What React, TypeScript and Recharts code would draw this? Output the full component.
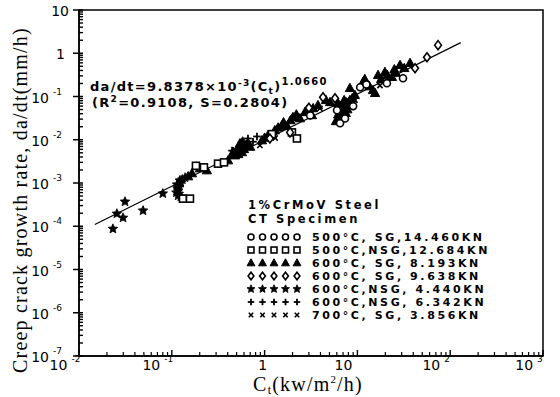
import React from 'react';
import { ScatterChart, Scatter, XAxis, YAxis, ReferenceArea } from 'recharts';

// ---- data (Ct in kW/m^2/h, da/dt in mm/h) ----
const circles500SG = [
  { ct: 6.03, rate: 0.048 }, { ct: 7.35, rate: 0.031 }, { ct: 6.5, rate: 0.024 },
  { ct: 31, rate: 0.264 }, { ct: 20.8, rate: 0.202 }, { ct: 10.7, rate: 0.163 },
  { ct: 3.1, rate: 0.0366 }, { ct: 12.5, rate: 0.19 }, { ct: 9.0, rate: 0.06 },
];
const squares500NSG = [
  { ct: 0.132, rate: 4.35e-4 }, { ct: 0.157, rate: 4.35e-4 }, { ct: 0.182, rate: 2.5e-3 },
  { ct: 0.222, rate: 2.3e-3 }, { ct: 0.315, rate: 2.8e-3 }, { ct: 0.365, rate: 3.0e-3 },
  { ct: 1.97, rate: 1.48e-2 }, { ct: 2.23, rate: 1.07e-2 }, { ct: 1.2, rate: 1.35e-2 },
];
const triangles600SG = [
  { ct: 0.15, rate: 1.41e-3 }, { ct: 0.165, rate: 1.66e-3 }, { ct: 0.201, rate: 2.16e-3 },
  { ct: 0.239, rate: 1.94e-3 }, { ct: 0.404, rate: 3.3e-3 }, { ct: 0.48, rate: 4.3e-3 },
  { ct: 0.517, rate: 6.3e-3 }, { ct: 0.57, rate: 5.1e-3 }, { ct: 0.63, rate: 7.4e-3 },
  { ct: 0.543, rate: 8.2e-3 }, { ct: 0.46, rate: 5.2e-3 }, { ct: 0.6, rate: 6.0e-3 },
  { ct: 0.5, rate: 5.8e-3 }, { ct: 0.55, rate: 7.0e-3 }, { ct: 0.66, rate: 8.5e-3 },
  { ct: 0.7, rate: 6.8e-3 }, { ct: 0.52, rate: 4.6e-3 }, { ct: 0.58, rate: 9.0e-3 },
  { ct: 0.45, rate: 4.5e-3 }, { ct: 0.937, rate: 9.6e-3 }, { ct: 1.09, rate: 1.26e-2 },
  { ct: 1.29, rate: 1.64e-2 }, { ct: 1.4, rate: 0.019 }, { ct: 1.6, rate: 0.025 },
  { ct: 1.9, rate: 0.028 }, { ct: 2.2, rate: 0.038 }, { ct: 1.0, rate: 0.011 },
  { ct: 1.54, rate: 2.15e-2 }, { ct: 2.02, rate: 3.3e-2 }, { ct: 2.86, rate: 4.8e-2 },
  { ct: 3.33, rate: 5.3e-2 }, { ct: 6.18, rate: 0.0695 }, { ct: 6.8, rate: 0.053 },
  { ct: 7.5, rate: 0.041 }, { ct: 6.5, rate: 0.031 }, { ct: 5.87, rate: 0.0266 },
  { ct: 7.9, rate: 0.066 }, { ct: 8.3, rate: 0.0817 }, { ct: 7.2, rate: 0.0817 },
  { ct: 6.2, rate: 0.038 }, { ct: 7.0, rate: 0.045 }, { ct: 6.6, rate: 0.06 },
  { ct: 7.8, rate: 0.05 }, { ct: 6.9, rate: 0.036 }, { ct: 6.3, rate: 0.028 },
  { ct: 7.6, rate: 0.072 }, { ct: 8.8, rate: 0.09 }, { ct: 8.3, rate: 0.155 },
  { ct: 11.5, rate: 0.213 }, { ct: 14.7, rate: 0.139 }, { ct: 16.7, rate: 0.31 },
  { ct: 19.8, rate: 0.364 }, { ct: 23.6, rate: 0.279 }, { ct: 28.8, rate: 0.53 },
  { ct: 36.9, rate: 0.59 }, { ct: 15.5, rate: 0.119 }, { ct: 9.4, rate: 0.107 },
  { ct: 12, rate: 0.25 }, { ct: 13.5, rate: 0.17 }, { ct: 18, rate: 0.25 },
  { ct: 21, rate: 0.31 }, { ct: 25, rate: 0.42 }, { ct: 26, rate: 0.35 },
  { ct: 32, rate: 0.45 }, { ct: 2.4, rate: 0.031 }, { ct: 2.72, rate: 0.043 },
  { ct: 3.76, rate: 0.0625 }, { ct: 4.58, rate: 0.0817 }, { ct: 5.07, rate: 0.0733 },
  { ct: 3.24, rate: 0.0366 }, { ct: 1.75, rate: 0.0204 },
];
const diamonds600SG = [
  { ct: 1.14, rate: 1.07e-2 }, { ct: 1.88, rate: 1.48e-2 }, { ct: 4.26, rate: 0.0957 },
  { ct: 5.74, rate: 0.0908 }, { ct: 56.2, rate: 0.81 }, { ct: 74, rate: 1.54 },
  { ct: 41.8, rate: 0.45 }, { ct: 3.0, rate: 0.055 },
];
const stars600NSG = [
  { ct: 0.0232, rate: 8.7e-5 }, { ct: 0.0256, rate: 1.95e-4 }, { ct: 0.0298, rate: 1.57e-4 },
  { ct: 0.0313, rate: 3.7e-4 }, { ct: 0.049, rate: 2.3e-4 }, { ct: 0.08, rate: 5.7e-4 },
  { ct: 0.114, rate: 9.2e-4 }, { ct: 0.117, rate: 6.7e-4 }, { ct: 0.117, rate: 5.1e-4 },
  { ct: 0.122, rate: 1.14e-3 }, { ct: 0.139, rate: 1.33e-3 }, { ct: 0.12, rate: 8e-4 },
  { ct: 0.112, rate: 6e-4 }, { ct: 0.115, rate: 7.5e-4 }, { ct: 0.125, rate: 1.0e-3 },
  { ct: 0.13, rate: 1.2e-3 }, { ct: 0.119, rate: 5.6e-4 }, { ct: 0.125, rate: 4.8e-4 },
];
const plus600NSG = [
  { ct: 0.662, rate: 1.07e-2 }, { ct: 0.828, rate: 1.19e-2 }, { ct: 0.446, rate: 5.6e-3 },
  { ct: 0.75, rate: 9.0e-3 },
];
const cross700SG = [
  { ct: 0.89, rate: 7.4e-3 }, { ct: 1.3, rate: 1.1e-2 }, { ct: 3.95, rate: 0.053 },
  { ct: 9.4, rate: 0.0817 }, { ct: 17.5, rate: 0.18 },
];
const fitLine = [
  { ct: 0.0148, rate: 1.1e-4 },
  { ct: 130, rate: 1.76 },
];

const xDecades = [0.01, 0.1, 1, 10, 100, 1000];
const yDecades = [1e-7, 1e-6, 1e-5, 1e-4, 1e-3, 1e-2, 0.1, 1, 10];
const minorMultipliers = [2, 3, 4, 5, 6, 7, 8, 9];
const xTickLabels = [['10', '-2'], ['10', '-1'], ['1', ''], ['10', ''], ['10', '2'], ['10', '3']];
const yTickLabels = [['10', '-7'], ['10', '-6'], ['10', '-5'], ['10', '-4'], ['10', '-3'], ['10', '-2'], ['10', '-1'], ['1', ''], ['10', '']];

const legendRows = [
  { kind: 'circle', label: '500°C, SG,14.460KN' },
  { kind: 'square', label: '500°C,NSG,12.684KN' },
  { kind: 'triangle', label: '600°C, SG, 8.193KN' },
  { kind: 'diamond', label: '600°C, SG, 9.638KN' },
  { kind: 'star', label: '600°C,NSG, 4.440KN' },
  { kind: 'plus', label: '600°C,NSG, 6.342KN' },
  { kind: 'cross', label: '700°C, SG, 3.856KN' },
];

const withMinors = (decades: number[]) => {
  const out: number[] = [];
  decades.forEach((d, i) => {
    out.push(d);
    if (i < decades.length - 1) minorMultipliers.forEach((m) => out.push(d * m));
  });
  return out;
};
const xTicks = withMinors(xDecades);
const yTicks = withMinors(yDecades);

const isMajor = (v: number) => {
  const l = Math.log10(v);
  return Math.abs(l - Math.round(l)) < 1e-6;
};

const FONT = '"DejaVu Sans", sans-serif';
const SERIF = '"Liberation Serif", "DejaVu Serif", serif';

function Marker({ kind, cx, cy, s = 1 }: { kind: string; cx: number; cy: number; s?: number }) {
  const sw = 1.6;
  switch (kind) {
    case 'circle':
      return <circle cx={cx} cy={cy} r={3.5 * s} fill="#fff" stroke="#000" strokeWidth={sw} />;
    case 'square':
      return <rect x={cx - 3.5 * s} y={cy - 3.5 * s} width={7 * s} height={7 * s} fill="#fff" stroke="#000" strokeWidth={sw} />;
    case 'triangle':
      return <polygon points={`${cx},${cy - 5 * s} ${cx + 4.6 * s},${cy + 3.3 * s} ${cx - 4.6 * s},${cy + 3.3 * s}`} fill="#000" stroke="#000" strokeWidth={1} />;
    case 'diamond':
      return <polygon points={`${cx},${cy - 4.5 * s} ${cx + 3.4 * s},${cy} ${cx},${cy + 4.5 * s} ${cx - 3.4 * s},${cy}`} fill="#fff" stroke="#000" strokeWidth={sw} />;
    case 'star': {
      const pts: string[] = [];
      for (let i = 0; i < 10; i++) {
        const r = (i % 2 === 0 ? 5 : 2.3) * s;
        const a = -Math.PI / 2 + (i * Math.PI) / 5;
        pts.push(`${cx + r * Math.cos(a)},${cy + r * Math.sin(a)}`);
      }
      return <polygon points={pts.join(' ')} fill="#000" stroke="#000" strokeWidth={0.8} />;
    }
    case 'plus':
      return (
        <g stroke="#000" strokeWidth={1.8}>
          <line x1={cx - 3.8 * s} y1={cy} x2={cx + 3.8 * s} y2={cy} />
          <line x1={cx} y1={cy - 3.8 * s} x2={cx} y2={cy + 3.8 * s} />
        </g>
      );
    case 'cross':
      return (
        <g stroke="#000" strokeWidth={1.6}>
          <line x1={cx - 2.6 * s} y1={cy - 2.6 * s} x2={cx + 2.6 * s} y2={cy + 2.6 * s} />
          <line x1={cx - 2.6 * s} y1={cy + 2.6 * s} x2={cx + 2.6 * s} y2={cy - 2.6 * s} />
        </g>
      );
    default:
      return <g />;
  }
}

const shapeOf = (kind: string) => (p: any) =>
  p && typeof p.cx === 'number' ? <Marker kind={kind} cx={p.cx} cy={p.cy} /> : <g />;

function XTick(props: any) {
  const { x, y, payload } = props;
  const v = payload.value;
  if (!isMajor(v)) {
    return <line x1={x} y1={y} x2={x} y2={y - 4} stroke="#000" strokeWidth={1.2} />;
  }
  const idx = xDecades.findIndex((d) => Math.abs(Math.log10(d) - Math.log10(v)) < 1e-6);
  const [base, exp] = xTickLabels[idx] || ['', ''];
  return (
    <g>
      <line x1={x} y1={y} x2={x} y2={y - 6} stroke="#000" strokeWidth={1.4} />
      {base === '1' ? (
        <text x={x - 2} y={y + 14} textAnchor="middle" fontFamily={FONT} fontSize={14} fill="#000">1</text>
      ) : (
        <text x={x - 14} y={y + 14} textAnchor="middle" fontFamily={FONT} fontSize={14} fill="#000">
          {base}
          {exp ? <tspan dx={4} dy={-8} fontSize={9}>{exp}</tspan> : null}
        </text>
      )}
    </g>
  );
}

function YTick(props: any) {
  const { x, y, payload } = props;
  const v = payload.value;
  if (!isMajor(v)) {
    return <line x1={x} y1={y} x2={x + 4} y2={y} stroke="#000" strokeWidth={1.4} />;
  }
  const idx = yDecades.findIndex((d) => Math.abs(Math.log10(d) - Math.log10(v)) < 1e-6);
  const [base, exp] = yTickLabels[idx] || ['', ''];
  return (
    <g>
      <line x1={x - 6} y1={y} x2={x + 4} y2={y} stroke="#000" strokeWidth={1.5} />
      {exp ? (
        <text x={x - 17} y={y + 6} textAnchor="end" fontFamily={FONT} fontSize={14} fill="#000">
          {base}
          <tspan dx={4} dy={-8} fontSize={9}>{exp}</tspan>
        </text>
      ) : (
        <text x={base === '1' ? x - 14 : x - 10} y={y + 6} textAnchor="end" fontFamily={FONT} fontSize={14} fill="#000">
          {base}
        </text>
      )}
    </g>
  );
}

function LegendMarkers({ kind }: { kind: string }) {
  return (
    <svg width={58} height={10} style={{ display: 'block' }}>
      {[0, 1, 2, 3, 4].map((i) => (
        <Marker key={i} kind={kind} cx={5 + i * 11.5} cy={5} s={0.85} />
      ))}
    </svg>
  );
}

const supStyle = (top: number, size: number): React.CSSProperties => ({
  position: 'relative',
  top,
  fontSize: size,
  lineHeight: 0,
  verticalAlign: 'baseline',
});

export default function App() {
  const txt: React.CSSProperties = {
    position: 'absolute',
    fontFamily: FONT,
    fontSize: 11,
    fontWeight: 'bold',
    letterSpacing: 2.6,
    whiteSpace: 'nowrap',
    color: '#000',
    lineHeight: '11px',
  };
  const eq: React.CSSProperties = { ...txt, fontSize: 13, letterSpacing: 1.3, lineHeight: 1 };
  return (
    <div style={{ position: 'absolute', left: 0, top: 0, width: 560, height: 397, background: '#fff' }}>
      <ScatterChart width={560} height={397} margin={{ top: 10, right: 17, bottom: 0, left: 0 }}>
        <XAxis
          dataKey="ct"
          type="number"
          scale="log"
          domain={[0.01, 1000]}
          allowDataOverflow
          ticks={xTicks}
          interval={0}
          tickLine={false}
          tickSize={0}
          tickMargin={0}
          height={41}
          axisLine={{ stroke: '#000', strokeWidth: 1.5 }}
          tick={<XTick />}
        />
        <YAxis
          dataKey="rate"
          type="number"
          scale="log"
          domain={[1e-7, 10]}
          allowDataOverflow
          ticks={yTicks}
          interval={0}
          tickLine={false}
          tickSize={0}
          tickMargin={0}
          width={79}
          axisLine={{ stroke: '#000', strokeWidth: 1.5 }}
          tick={<YTick />}
        />
        <ReferenceArea x1={0.01} x2={1000} y1={1e-7} y2={10} fill="none" stroke="#000" strokeWidth={1.5} ifOverflow="visible" />
        <Scatter data={fitLine} line={{ stroke: '#000', strokeWidth: 1.2 }} shape={() => <g />} isAnimationActive={false} />
        <Scatter data={triangles600SG} shape={shapeOf('triangle')} isAnimationActive={false} />
        <Scatter data={stars600NSG} shape={shapeOf('star')} isAnimationActive={false} />
        <Scatter data={plus600NSG} shape={shapeOf('plus')} isAnimationActive={false} />
        <Scatter data={cross700SG} shape={shapeOf('cross')} isAnimationActive={false} />
        <Scatter data={squares500NSG} shape={shapeOf('square')} isAnimationActive={false} />
        <Scatter data={diamonds600SG} shape={shapeOf('diamond')} isAnimationActive={false} />
        <Scatter data={circles500SG} shape={shapeOf('circle')} isAnimationActive={false} />
      </ScatterChart>

      {/* equation */}
      <div style={{ ...eq, left: 90, top: 80, height: 14 }}>
        da/dt=9.8378×10<span style={supStyle(-5, 9)}>-3</span>(C<span style={supStyle(3, 9)}>t</span>)<span style={supStyle(-6, 10)}>1.0660</span>
      </div>
      <div style={{ ...eq, left: 92, top: 96 }}>
        (R<span style={supStyle(-5, 9)}>2</span>=0.9108, S=0.2804)
      </div>

      {/* legend */}
      <div style={{ ...txt, left: 248, top: 200, fontSize: 11.5 }}>1%CrMoV Steel</div>
      <div style={{ ...txt, left: 248, top: 214, fontSize: 11.5 }}>CT Specimen</div>
      {legendRows.map((r, i) => (
        <div key={r.kind} style={{ position: 'absolute', left: 246, top: 231 + i * 13, height: 12, display: 'flex', alignItems: 'center' }}>
          <LegendMarkers kind={r.kind} />
          <span style={{ ...txt, position: 'static', marginLeft: 8 }}>{r.label}</span>
        </div>
      ))}

      {/* axis titles */}
      <div
        style={{
          position: 'absolute',
          left: 20,
          top: 200,
          transform: 'translate(-50%, -50%) rotate(-90deg)',
          fontFamily: SERIF,
          fontSize: 20,
          letterSpacing: 1.2,
          whiteSpace: 'nowrap',
          color: '#000',
          lineHeight: 1,
        }}
      >
        Creep crack growth rate, da/dt(mm/h)
      </div>
      <div
        style={{
          position: 'absolute',
          left: 308,
          top: 384,
          transform: 'translate(-50%, -50%)',
          fontFamily: SERIF,
          fontSize: 20,
          letterSpacing: 1.2,
          whiteSpace: 'nowrap',
          color: '#000',
          lineHeight: 1,
        }}
      >
        C<span style={supStyle(3, 12)}>t</span>(kw/m<span style={supStyle(-8, 11)}>2</span>/h)
      </div>
    </div>
  );
}
